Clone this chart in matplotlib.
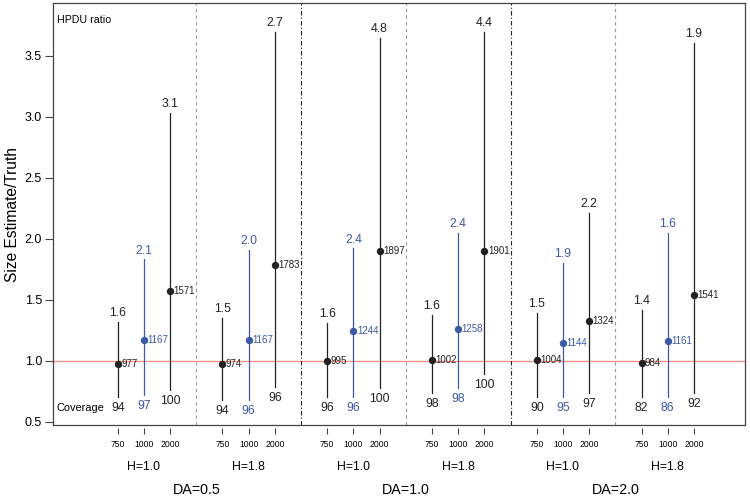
import matplotlib
matplotlib.use("Agg")
import matplotlib.pyplot as plt

plt.rcParams["font.family"] = ["Liberation Sans", "DejaVu Sans"]

# sample sizes inside each H block, then the H / DA blocks
SAMPLE_SIZES = [750, 1000, 2000]
H_LABELS = ["H=1.0", "H=1.8", "H=1.0", "H=1.8", "H=1.0", "H=1.8"]
DA_LABELS = ["DA=0.5", "DA=1.0", "DA=2.0"]

# one entry per interval, block by block (750, 1000, 2000)
MEDIAN_SIZE = [977, 1167, 1571, 974, 1167, 1783,
               995, 1244, 1897, 1002, 1258, 1901,
               1004, 1144, 1324, 984, 1161, 1541]
LOWER = [0.705, 0.72, 0.76, 0.678, 0.68, 0.787,
         0.705, 0.705, 0.774, 0.733, 0.774, 0.891,
         0.705, 0.705, 0.733, 0.705, 0.705, 0.733]
UPPER = [1.32, 1.83, 3.03, 1.35, 1.907, 3.697,
         1.307, 1.92, 3.648, 1.375, 2.044, 3.697,
         1.39, 1.80, 2.208, 1.415, 2.046, 3.607]
HPDU_RATIO = ["1.6", "2.1", "3.1", "1.5", "2.0", "2.7",
              "1.6", "2.4", "4.8", "1.6", "2.4", "4.4",
              "1.5", "1.9", "2.2", "1.4", "1.6", "1.9"]
COVERAGE = [94, 97, 100, 94, 96, 96,
            96, 96, 100, 98, 98, 100,
            90, 95, 97, 82, 86, 92]

BLACK = "#222222"
BLUE = "#3d5aa8"
RED = "#f09088"
XLIM = (-2.47, 23.95)


def positions():
    """x position of every interval: 4 units per H block."""
    xs = []
    for block in range(len(H_LABELS)):
        for k in range(len(SAMPLE_SIZES)):
            xs.append(4 * block + k)
    return xs


def main():
    fig = plt.figure(figsize=(7.5, 4.99), dpi=100)
    ax = fig.add_axes([0.0707, 0.1483, 0.9226, 0.8447])

    xs = positions()
    ax.axhline(1.0, color=RED, lw=1, zorder=1)

    for i, x in enumerate(xs):
        color = BLUE if SAMPLE_SIZES[i % 3] == 1000 else BLACK
        med = MEDIAN_SIZE[i] / 1000.0
        ax.plot([x, x], [LOWER[i], UPPER[i]], color=color, lw=0.9, zorder=2)
        ax.plot(x, med, "o", color=color, ms=4.3, zorder=3)
        ax.annotate(str(MEDIAN_SIZE[i]), (x, med), xytext=(2.5, 0),
                    textcoords="offset points", ha="left", va="center",
                    fontsize=7, color=color)
        ax.annotate(HPDU_RATIO[i], (x, UPPER[i]), xytext=(0, 6.4),
                    textcoords="offset points", ha="center", va="center",
                    fontsize=8.8, color=color)
        ax.annotate(str(COVERAGE[i]), (x, LOWER[i]), xytext=(0, -8),
                    textcoords="offset points", ha="center", va="center",
                    fontsize=8.8, color=color)

    # block separators: dashed within a DA, dot-dash between DA values
    for block in range(1, len(H_LABELS)):
        sep = 4 * block - 1
        if block % 2 == 1:
            ax.axvline(sep, color="#999999", lw=0.8, ls=(0, (3, 3)))
        else:
            ax.axvline(sep, color="#222222", lw=0.8, ls=(0, (4, 2, 1, 2)))

    ax.set_xlim(*XLIM)
    ax.set_ylim(0.473, 3.928)
    ax.set_yticks([0.5, 1.0, 1.5, 2.0, 2.5, 3.0, 3.5])
    ax.tick_params(axis="y", length=5.5, width=0.8, pad=2.4, labelsize=9,
                   color="#444444")
    ax.set_xticks([])
    for spine in ax.spines.values():
        spine.set_color("#444444")
        spine.set_linewidth(0.9)
    ax.set_ylabel("Size Estimate/Truth", fontsize=11.2)
    ax.yaxis.set_label_coords(-0.048, 0.5)

    # sample-size ticks drawn a little below the box
    sec = ax.secondary_xaxis(-0.008)
    sec.spines["bottom"].set_visible(False)
    sec.set_xticks(xs)
    sec.set_xticklabels([str(SAMPLE_SIZES[i % 3]) for i in range(len(xs))])
    sec.tick_params(length=4.3, width=0.8, pad=4, labelsize=6.2,
                    color="#444444")

    trans = ax.get_xaxis_transform()
    for block, label in enumerate(H_LABELS):
        ax.text(4 * block + 1, -0.1, label, transform=trans, ha="center",
                va="center", fontsize=8.8)
    for k, label in enumerate(DA_LABELS):
        ax.text(8 * k + 3, -0.155, label, transform=trans, ha="center",
                va="center", fontsize=10.3)

    ax.text(0.006, 0.962, "HPDU ratio", transform=ax.transAxes,
            ha="left", va="center", fontsize=7.7)
    ax.text(XLIM[0] + 0.15, 0.612, "Coverage", ha="left", va="center",
            fontsize=7.9)

    fig.savefig("out.png", dpi=100)


if __name__ == "__main__":
    main()
